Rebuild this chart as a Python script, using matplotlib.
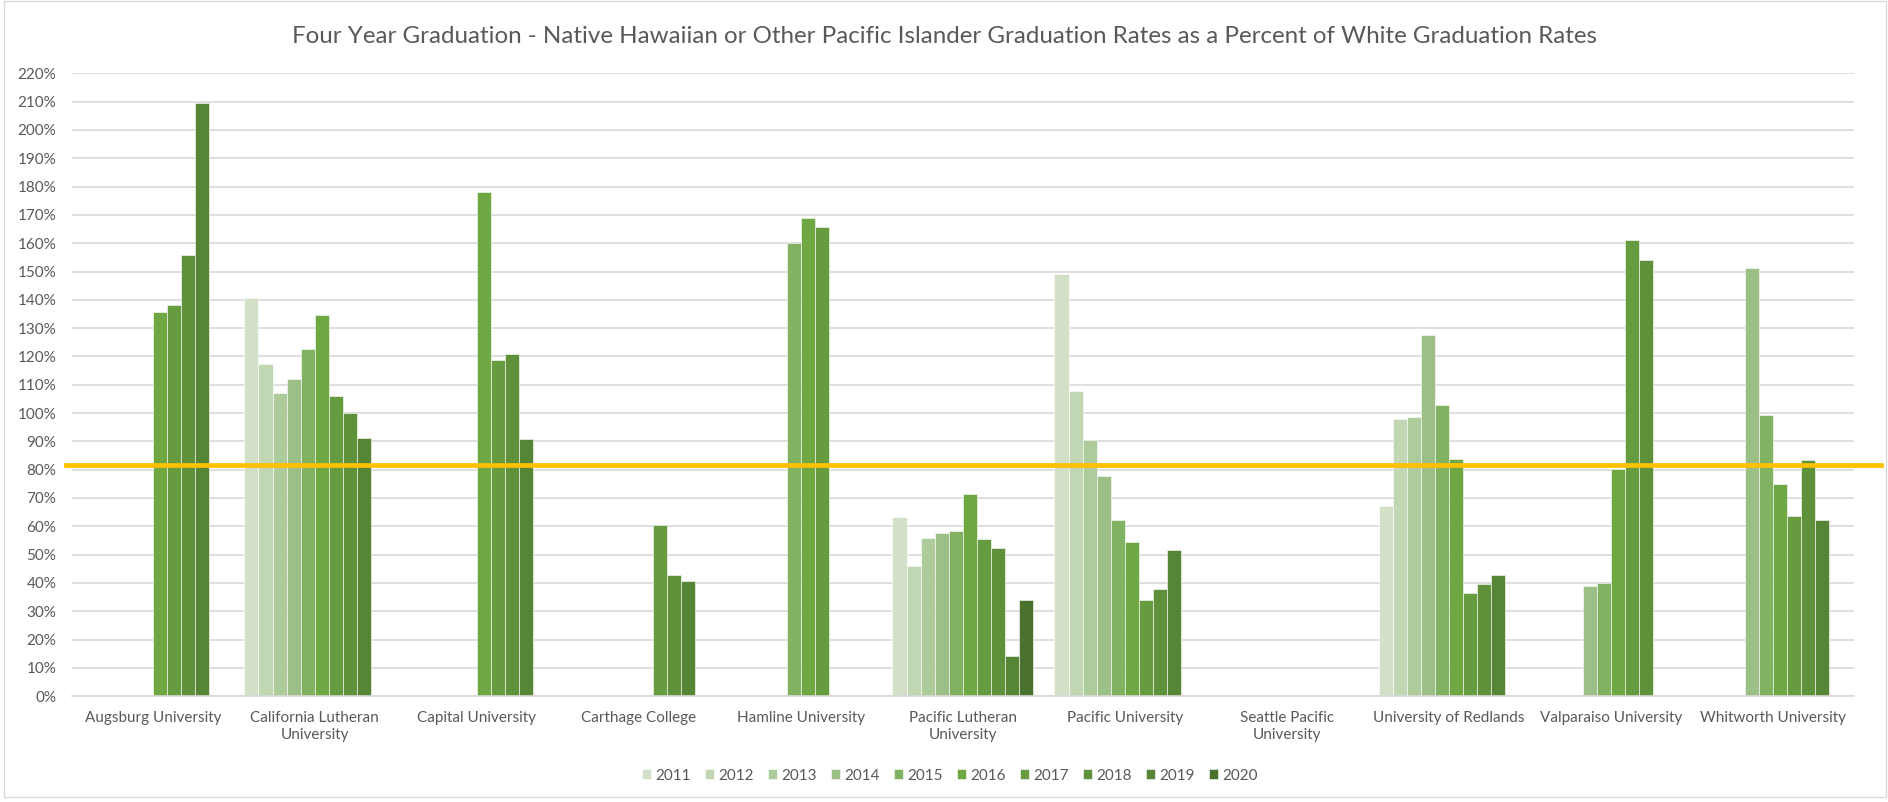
import matplotlib
matplotlib.use("Agg")
import matplotlib.pyplot as plt
from matplotlib.patches import Rectangle
import numpy as np

plt.rcParams['font.family'] = ['Lato', 'DejaVu Sans']

nan = np.nan

universities = ["Augsburg University", "California Lutheran\nUniversity", "Capital University",
                "Carthage College", "Hamline University", "Pacific Lutheran\nUniversity",
                "Pacific University", "Seattle Pacific\nUniversity", "University of Redlands",
                "Valparaiso University", "Whitworth University"]

years = ["2011", "2012", "2013", "2014", "2015", "2016", "2017", "2018", "2019", "2020"]

# percent of white graduation rate, one list per cohort year (nan = no data)
r2011 = [nan, 140.6, nan, nan, nan, 63.3, 149.1, nan, 67.3, nan, nan]
r2012 = [nan, 117.3, nan, nan, nan, 46.0, 107.7, nan, 97.9, nan, nan]
r2013 = [nan, 107.1, nan, nan, nan, 55.9, 90.6, nan, 98.7, nan, nan]
r2014 = [nan, 112.0, nan, nan, nan, 57.8, 77.8, nan, 127.6, 39.0, 151.4]
r2015 = [nan, 122.8, nan, nan, 160.2, 58.2, 62.3, nan, 102.8, 40.0, 99.2]
r2016 = [135.8, 134.8, 178.0, nan, 168.8, 71.5, 54.6, nan, 83.8, 80.3, 74.9]
r2017 = [138.3, 105.9, 118.7, 60.6, 165.7, 55.6, 34.0, nan, 36.4, 161.3, 63.7]
r2018 = [155.9, 100.0, 120.9, 42.8, nan, 52.2, 37.9, nan, 39.5, 153.9, 83.5]
r2019 = [209.6, 91.2, 90.8, 40.8, nan, 14.1, 51.8, nan, 42.8, nan, 62.1]
r2020 = [nan, nan, nan, nan, nan, 33.8, nan, nan, nan, nan, nan]
rates = [r2011, r2012, r2013, r2014, r2015, r2016, r2017, r2018, r2019, r2020]

threshold = 81.5  # orange reference line

colors = ["#D2E0C8", "#C1D6B3", "#AECB9C", "#9BBF85", "#81B262",
          "#6FA843", "#669C3F", "#5E913A", "#568535", "#4A722E"]

fig = plt.figure(figsize=(18.88, 8.02), dpi=100)
ax = fig.add_axes([0.038, 0.132, 0.944, 0.7765])

x = np.arange(len(universities))
w = 1 / 11.5
for j, (yr, vals) in enumerate(zip(years, rates)):
    ax.bar(x + (j - 4.5) * w, vals, width=w, color=colors[j], label=yr,
           edgecolor="white", linewidth=0.4, zorder=2)

ax.axhline(threshold, xmin=-0.003, xmax=1.015, color="#FFC000", lw=3.4,
           clip_on=False, zorder=3)

ax.set_xlim(-0.5, len(universities) - 0.5)
ax.set_ylim(0, 220)
ax.set_yticks(np.arange(0, 221, 10))
ax.set_yticklabels([f"{v}%" for v in range(0, 221, 10)])
ax.set_xticks(x)
ax.set_xticklabels(universities, linespacing=1.2)
ax.tick_params(axis="both", length=0, labelsize=11, labelcolor="#595959")
ax.tick_params(axis="y", pad=11)
ax.tick_params(axis="x", pad=11)
ax.grid(axis="y", color="#D9D9D9", lw=1.2, zorder=0)
ax.set_axisbelow(True)
for s in ["top", "right", "left"]:
    ax.spines[s].set_visible(False)
ax.spines["bottom"].set_color("#D9D9D9")
ax.spines["bottom"].set_linewidth(1.2)

fig.text(0.5, 0.955, "Four Year Graduation - Native Hawaiian or Other Pacific Islander Graduation "
         "Rates as a Percent of White Graduation Rates", ha="center", va="center",
         fontsize=17.4, color="#595959")

fig.legend(loc="lower center", bbox_to_anchor=(0.503, 0.007), ncol=10, frameon=False,
           fontsize=11, labelcolor="#595959", handlelength=0.6, handleheight=0.6,
           handletextpad=0.3, columnspacing=0.9)

fig.patches.append(Rectangle((0.002, 0.006), 0.997, 0.993, transform=fig.transFigure,
                             fill=False, edgecolor="#D9D9D9", lw=1))

fig.savefig("out.png", dpi=100)
